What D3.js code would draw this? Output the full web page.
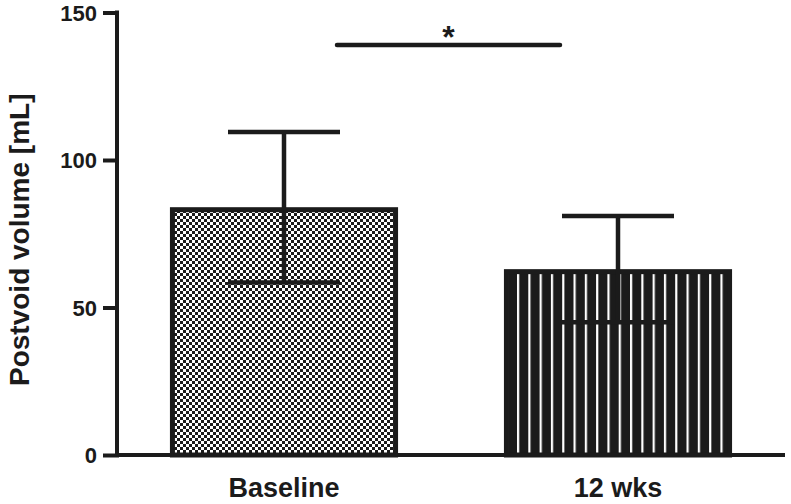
<!DOCTYPE html>
<html><head><meta charset="utf-8">
<script src="https://cdn.jsdelivr.net/npm/d3@7"></script>
<style>html,body{margin:0;padding:0;background:#fff;}svg{display:block;}</style>
</head><body>
<svg id="chart" width="791" height="504"></svg>
<script>
const categories = ["Baseline", "12 wks"];
const means = [84, 63];
const sds = [25.5, 18];
const yTicks = [0, 50, 100, 150];
const yLabel = "Postvoid volume [mL]";
const sigLabel = "*";

const W = 791, H = 504;
const ink = "#1b1b1b";
const font = "Liberation Sans, Arial, sans-serif";
const svg = d3.select("#chart");

const x = d3.scaleBand().domain(categories).range([117, 785]).paddingInner(0.317).paddingOuter(0.1585);
const y = d3.scaleLinear().domain([0, 150]).range([455, 12.5]);

const defs = svg.append("defs");
const chk = defs.append("pattern").attr("id", "chk").attr("patternUnits", "userSpaceOnUse")
  .attr("width", 6).attr("height", 6);
chk.append("rect").attr("width", 6).attr("height", 6).attr("fill", ink);
chk.append("rect").attr("x", 0).attr("y", 0).attr("width", 3).attr("height", 3).attr("fill", "#fff");
chk.append("rect").attr("x", 3).attr("y", 3).attr("width", 3).attr("height", 3).attr("fill", "#fff");

const str = defs.append("pattern").attr("id", "str").attr("patternUnits", "userSpaceOnUse")
  .attr("x", 517).attr("width", 11.3).attr("height", 10);
str.append("rect").attr("width", 11.3).attr("height", 10).attr("fill", ink);
str.append("rect").attr("x", 0).attr("width", 2.2).attr("height", 10).attr("fill", "#fff");

const fills = ["url(#chk)", "url(#str)"];

// bars
svg.selectAll("rect.bar").data(categories).join("rect").attr("class", "bar")
  .attr("x", d => x(d) + 2.5)
  .attr("y", (d, i) => y(means[i]) + 2.5)
  .attr("width", x.bandwidth() - 5)
  .attr("height", (d, i) => y(0) - y(means[i]) - 2.5)
  .attr("fill", (d, i) => fills[i])
  .attr("stroke", ink).attr("stroke-width", 5);

// error bars
const capW = 112;
const eb = svg.append("g").attr("stroke", ink).attr("stroke-width", 4.5).attr("fill", "none");
categories.forEach((c, i) => {
  const cx = x(c) + x.bandwidth() / 2;
  eb.append("line").attr("x1", cx).attr("x2", cx).attr("y1", y(means[i] - sds[i])).attr("y2", y(means[i] + sds[i]));
  eb.append("line").attr("x1", cx - capW / 2).attr("x2", cx + capW / 2).attr("y1", y(means[i] + sds[i])).attr("y2", y(means[i] + sds[i]));
  eb.append("line").attr("x1", cx - capW / 2).attr("x2", cx + capW / 2).attr("y1", y(means[i] - sds[i])).attr("y2", y(means[i] - sds[i]));
});

// axes
const yAxis = d3.axisLeft(y).tickValues(yTicks).tickSize(14).tickPadding(6).tickFormat(d3.format("d"));
const gy = svg.append("g").attr("transform", "translate(117,0)").call(yAxis);
gy.select(".domain").remove();
gy.append("line").attr("x1", 0).attr("x2", 0).attr("y1", y(150) - 2).attr("y2", y(0)).attr("stroke", ink).attr("stroke-width", 4);
gy.selectAll(".tick line").attr("stroke", ink).attr("stroke-width", 4).attr("x2", -14).attr("x1", 2);
gy.selectAll(".tick text").attr("fill", ink).style("font-family", font)
  .style("font-size", "22px").style("font-weight", "bold").attr("dy", "0.36em");

const xAxis = d3.axisBottom(x).tickSize(0).tickPadding(28);
const gx = svg.append("g").attr("transform", `translate(0,${y(0)})`).call(xAxis);
gx.select(".domain").remove();
gx.append("line").attr("x1", 115).attr("x2", 785).attr("y1", 0).attr("y2", 0).attr("stroke", ink).attr("stroke-width", 4);
gx.selectAll(".tick text").attr("fill", ink).style("font-family", font)
  .style("font-size", "27px").style("font-weight", "bold").attr("dy", "0.5em");

// y label
svg.append("text").attr("transform", `translate(29,${(y(0) + y(150)) / 2 + 6}) rotate(-90)`)
  .attr("text-anchor", "middle").attr("fill", ink)
  .style("font-family", font).style("font-size", "28px").style("font-weight", "bold")
  .text(yLabel);

// significance
const c0 = x(categories[0]) + x.bandwidth() / 2, c1 = x(categories[1]) + x.bandwidth() / 2;
svg.append("line").attr("x1", c0 + 53).attr("x2", c1 - 58).attr("y1", 45).attr("y2", 45)
  .attr("stroke", ink).attr("stroke-width", 4.5).attr("stroke-linecap", "round");
svg.append("text").attr("x", (c0 + 53 + c1 - 58) / 2).attr("y", 48).attr("text-anchor", "middle")
  .attr("fill", ink).style("font-family", font).style("font-size", "32px").style("font-weight", "bold")
  .text(sigLabel);
</script>
</body></html>
